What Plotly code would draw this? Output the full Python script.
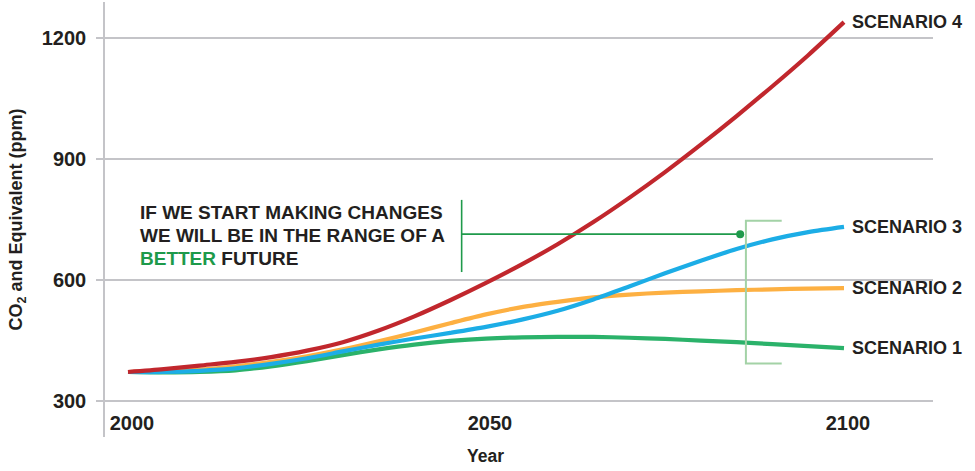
import plotly.graph_objects as go

years = [2000, 2005, 2010, 2015, 2020, 2025, 2030, 2035, 2040, 2045, 2050,
         2055, 2060, 2065, 2070, 2075, 2080, 2085, 2090, 2095, 2100]
scenario_1 = [372, 371, 372, 376, 386, 399, 414, 428, 440, 449, 455,
              458, 459, 459, 457, 454, 450, 446, 441, 436, 431]
scenario_2 = [372, 374, 378, 386, 397, 411, 428, 448, 470, 493, 515,
              533, 546, 557, 564, 569, 572, 575, 577, 579, 580]
scenario_3 = [372, 372, 375, 381, 392, 406, 423, 440, 455, 469, 484,
              502, 524, 552, 584, 617, 648, 677, 701, 719, 732]
scenario_4 = [372, 379, 388, 397, 409, 425, 446, 475, 510, 550, 593,
              639, 689, 744, 804, 868, 936, 1007, 1081, 1158, 1240]

series_names = ["SCENARIO 1", "SCENARIO 2", "SCENARIO 3", "SCENARIO 4"]
series_values = [scenario_1, scenario_2, scenario_3, scenario_4]
series_colors = ["#2bb26a", "#fdb042", "#1cade6", "#c1272d"]

y_ticks = [300, 600, 900, 1200]
x_ticks = [2000, 2050, 2100]
x_tick_labels = ["2000", "2050", "2100"]

callout_lines = [
    "IF WE START MAKING CHANGES",
    "WE WILL BE IN THE RANGE OF A",
    "<span style='color:#1d9a4a'>BETTER</span> FUTURE",
]

FONT = "Liberation Sans, Arial, sans-serif"
TEXT = "#231f20"
GRID = "#c4c4c8"

fig = go.Figure()
for name, vals, col in zip(series_names, series_values, series_colors):
    fig.add_trace(go.Scatter(
        x=years, y=vals, mode="lines", name=name,
        line=dict(color=col, width=4.2, shape="spline", smoothing=0.8),
        hoverinfo="skip", showlegend=False,
    ))

# end labels
for name, vals in zip(series_names, series_values):
    fig.add_annotation(
        x=years[-1], y=vals[-1], text=name, showarrow=False,
        xanchor="left", yanchor="middle", xshift=6,
        font=dict(family=FONT, size=18, color=TEXT, weight="bold"),
    )

# callout text
for i, line in enumerate(callout_lines):
    fig.add_annotation(
        xref="paper", yref="paper", x=(138 - 105) / 828, y=1 - (212 - 2 + i * 23) / 435,
        text=line, showarrow=False, xanchor="left", yanchor="middle",
        font=dict(family=FONT, size=19, color=TEXT, weight="bold"),
    )

# x axis title (sits under the middle tick label)
fig.add_annotation(
    x=x_ticks[1], xref="x", yref="paper", y=1 - (456 - 2) / 435,
    text="Year", showarrow=False, xanchor="center", yanchor="middle",
    font=dict(family=FONT, size=17.5, color=TEXT, weight="bold"),
)

# callout pointer
pointer = "#1f9a4b"
fig.add_shape(type="line", x0=2046.6, x1=2046.6, y0=620, y1=799,
              line=dict(color=pointer, width=1.6))
fig.add_shape(type="line", x0=2046.6, x1=2085.5, y0=714, y1=714,
              line=dict(color=pointer, width=1.6))
fig.add_trace(go.Scatter(x=[2085.5], y=[714], mode="markers",
                         marker=dict(color=pointer, size=8),
                         hoverinfo="skip", showlegend=False))
# bracket
bracket = "#a3d2a6"
fig.add_shape(type="path",
              path="M 2091.3,747 L 2086.3,747 L 2086.3,393 L 2091.3,393",
              line=dict(color=bracket, width=2))

fig.update_layout(
    width=975, height=471,
    margin=dict(l=105, r=42, t=2, b=34),
    paper_bgcolor="white", plot_bgcolor="white",
    font=dict(family=FONT, color=TEXT, weight="bold"),
)
fig.update_xaxes(
    range=[1996.79, 2112.43],
    tickvals=x_ticks, ticktext=x_tick_labels,
    ticklabelposition="inside", ticklabelshift=4,
    showgrid=False, zeroline=False, showline=False, ticks="",
    tickfont=dict(family=FONT, size=20, color=TEXT, weight="bold"),
)
fig.update_yaxes(
    range=[210.7, 1290],
    tickvals=y_ticks,
    showgrid=True, gridcolor=GRID, gridwidth=1.5,
    zeroline=False, showline=True, linecolor=GRID, linewidth=1.5,
    ticks="outside", ticklen=7, tickcolor=GRID, tickwidth=1.5,
    ticklabelstandoff=6,
    tickfont=dict(family=FONT, size=20, color=TEXT, weight="bold"),
    title=dict(text="CO<sub>2</sub> and Equivalent (ppm)", standoff=14,
               font=dict(family=FONT, size=18, color=TEXT, weight="bold")),
)

fig.write_html("out.html")
